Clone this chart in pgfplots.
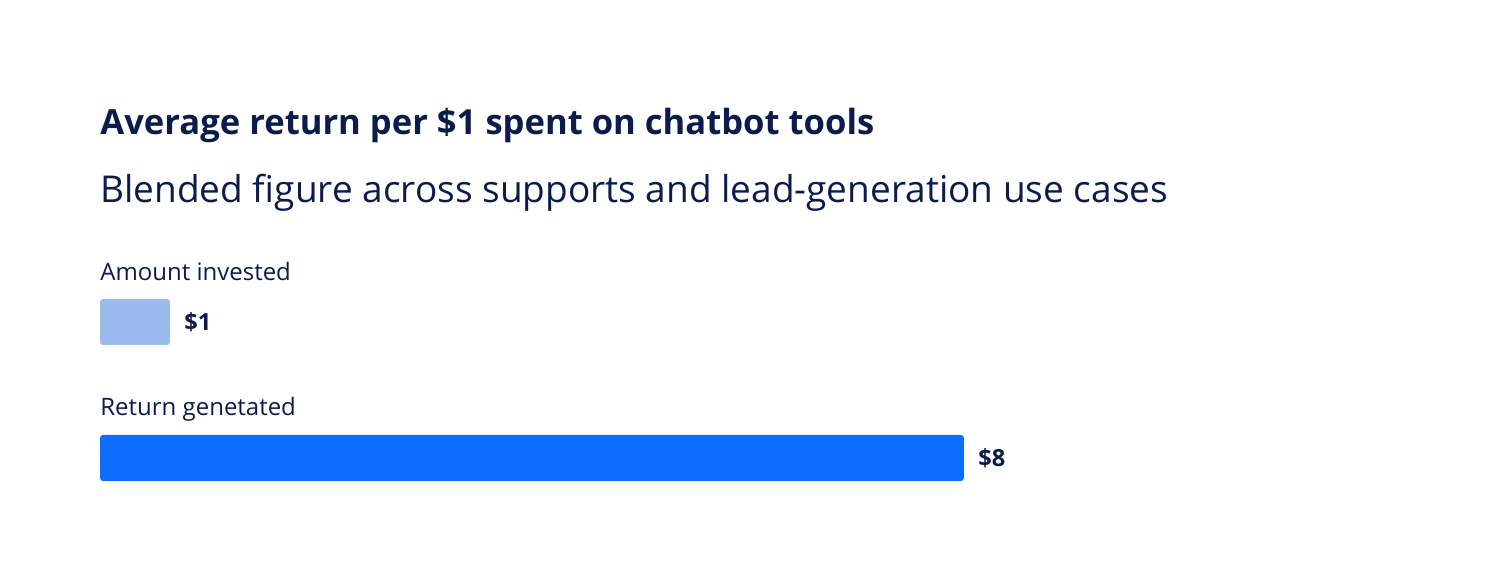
\documentclass[border=0pt]{standalone}
\usepackage{fontspec}
\setmainfont{Open Sans}
\usepackage{pgfplots}
\pgfplotsset{compat=1.18}
\definecolor{navy}{HTML}{0B1B4D}
\definecolor{lightblue}{HTML}{9BBBEE}
\definecolor{brightblue}{HTML}{0D6EFD}

\begin{document}
\begin{tikzpicture}
    \path[use as bounding box] (0,0) rectangle (744pt,291pt);
    \node[anchor=base west, inner sep=0, text=navy,
          font=\bfseries\fontsize{17.3}{20}\selectfont] at (50pt,223.5pt)
        {Average return per \$1 spent on chatbot tools};
    \node[anchor=base west, inner sep=0, text=navy,
          font=\fontsize{18.5}{22}\selectfont] at (50pt,189.5pt)
        {Blended figure across supports and lead-generation use cases};
    \node[anchor=base west, inner sep=0, text=navy,
          font=\fontsize{12}{14}\selectfont] at (50pt,150.5pt)
        {Amount invested};
    \node[anchor=base west, inner sep=0, text=navy,
          font=\fontsize{12}{14}\selectfont] at (50pt,83pt)
        {Return genetated};
    \begin{axis}[
        at={(50pt,28pt)}, anchor=south west,
        scale only axis,
        width=650pt, height=136pt,
        xmin=0.383, xmax=11.845,
        ymin=-0.5, ymax=1.5,
        y dir=reverse,
        axis lines=none, ticks=none,
        xbar, bar width=23pt, bar shift=0pt,
        point meta=explicit symbolic,
        nodes near coords,
        nodes near coords style={anchor=west, inner sep=0, xshift=7pt,
            text=navy, font=\bfseries\fontsize{11.8}{13}\selectfont},
    ]
        \addplot[draw=none, fill=lightblue, rounded corners=1.5pt]
        coordinates {(1,0) [\$1]};
        \addplot[draw=none, fill=brightblue, rounded corners=1.5pt]
        coordinates {(8,1) [\$8]};
    \end{axis}
\end{tikzpicture}
\end{document}
